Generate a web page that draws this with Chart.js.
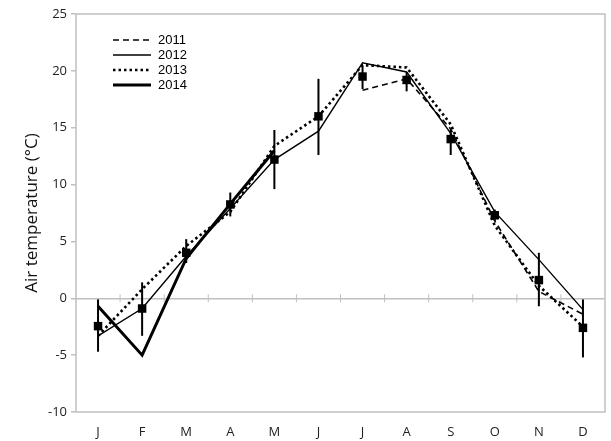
<!DOCTYPE html>
<html>
<head>
<meta charset="utf-8">
<script src="https://cdn.jsdelivr.net/npm/chart.js@4/dist/chart.umd.min.js"></script>
<style>
  html, body { margin: 0; padding: 0; background: #fff; }
  #wrap { width: 611px; height: 441px; }
</style>
</head>
<body>
<div id="wrap"><canvas id="tempChart" width="611" height="441"></canvas></div>
<script>
// months
const months = ['J','F','M','A','M','J','J','A','S','O','N','D'];
const yTicks = [-10, -5, 0, 5, 10, 15, 20, 25];

// yearly monthly means (°C)
const y2011 = [null, null, null, null, null, null, 18.3, 19.3, 14.9, 6.8, 0.6, -1.4];
const y2012 = [-3.3, -0.9, 3.7, 7.9, 12.2, 14.7, 20.7, 19.9, 14.5, 7.6, 3.4, -1.0];
const y2013 = [-3.3, 0.8, 4.6, 7.6, 13.4, 16.0, 20.5, 20.3, 15.3, 6.4, 1.1, -2.5];
const y2014 = [-0.7, -5.0, 3.5, 8.3, 13.0, null, null, null, null, null, null, null];

// long-term mean with error bars
const meanVals = [-2.45, -0.9, 4.0, 8.25, 12.2, 16.0, 19.5, 19.2, 14.0, 7.3, 1.6, -2.6];
const errLow  = [-4.7, -3.3, 3.1, 7.2, 9.6, 12.6, 18.4, 18.2, 12.6, 6.8, -0.7, -5.2];
const errHigh = [-0.1, 1.4, 5.2, 9.3, 14.8, 19.3, 20.5, 19.9, 14.9, 7.8, 4.0, -0.1];

const gray = '#c0c0c0';

// frame, zero-line ticks, error bars
const extras = {
  id: 'extras',
  beforeDatasetsDraw(chart) {
    const {ctx, chartArea: a, scales: {x, y}} = chart;
    ctx.save();
    ctx.strokeStyle = gray;
    ctx.lineWidth = 1.5;
    ctx.strokeRect(a.left, a.top, a.right - a.left, a.bottom - a.top);
    // small ticks on the zero line between months
    const y0 = y.getPixelForValue(0);
    ctx.lineWidth = 1;
    for (let i = 1; i < months.length; i++) {
      const px = (x.getPixelForValue(i - 1) + x.getPixelForValue(i)) / 2;
      ctx.beginPath();
      ctx.moveTo(px, y0 - 4);
      ctx.lineTo(px, y0 + 4);
      ctx.stroke();
    }
    // error bars
    ctx.strokeStyle = '#000';
    ctx.lineWidth = 2;
    months.forEach((m, i) => {
      const px = x.getPixelForValue(i);
      ctx.beginPath();
      ctx.moveTo(px, y.getPixelForValue(errLow[i]));
      ctx.lineTo(px, y.getPixelForValue(errHigh[i]));
      ctx.stroke();
    });
    ctx.restore();
  },
  afterDraw(chart) {
    // legend in upper left
    const ctx = chart.ctx;
    ctx.save();
    ctx.font = '13px "Liberation Sans", Arial, sans-serif';
    ctx.fillStyle = '#000';
    ctx.textBaseline = 'middle';
    let ly = 40;
    chart.data.datasets.forEach(ds => {
      if (!ds.inLegend) return;
      ctx.strokeStyle = '#000';
      ctx.lineWidth = ds.borderWidth;
      ctx.setLineDash(ds.borderDash || []);
      ctx.beginPath();
      ctx.moveTo(113, ly);
      ctx.lineTo(151, ly);
      ctx.stroke();
      ctx.setLineDash([]);
      ctx.fillText(ds.label, 158, ly);
      ly += 15;
    });
    ctx.restore();
  }
};

const lineDs = (label, data, width, dash) => ({
  label, data, inLegend: true,
  borderColor: '#000',
  borderWidth: width,
  borderDash: dash,
  pointRadius: 0,
  fill: false,
  tension: 0,
  spanGaps: false
});

new Chart(document.getElementById('tempChart'), {
  type: 'line',
  data: {
    labels: months,
    datasets: [
      lineDs('2011', y2011, 1.6, [6, 4]),
      lineDs('2012', y2012, 1.4, []),
      lineDs('2013', y2013, 2.6, [2.5, 3]),
      lineDs('2014', y2014, 3, []),
      {
        label: 'mean',
        data: meanVals,
        showLine: false,
        pointStyle: 'rect',
        pointRadius: 6,
        pointBackgroundColor: '#000',
        pointBorderColor: '#000',
        pointBorderWidth: 0
      }
    ]
  },
  options: {
    responsive: false,
    animation: false,
    layout: { padding: { top: 14, right: 2, left: 0, bottom: 0 } },
    plugins: {
      legend: { display: false },
      tooltip: { enabled: false }
    },
    scales: {
      x: {
        offset: true,
        grid: { display: false },
        border: { display: false },
        ticks: {
          padding: 4,
          color: '#222',
          font: { family: '"Open Sans", sans-serif', size: 13 }
        },
        afterFit: s => { s.height = 29; }
      },
      y: {
        min: -10,
        max: 25,
        afterBuildTicks: s => { s.ticks = yTicks.map(v => ({ value: v })); },
        grid: {
          color: c => (c.tick && c.tick.value === 0) ? gray : 'rgba(0,0,0,0)',
          tickColor: gray,
          tickLength: 5,
          lineWidth: 1.5
        },
        border: { display: false },
        ticks: {
          padding: 4,
          color: '#222',
          font: { family: '"Open Sans", sans-serif', size: 13 }
        },
        title: {
          display: true,
          text: 'Air temperature (°C)',
          color: '#111',
          padding: { top: 22, bottom: 0 },
          font: { family: '"Open Sans", sans-serif', size: 17 }
        },
        afterFit: s => { s.width = 76; }
      }
    }
  },
  plugins: [extras]
});
</script>
</body>
</html>
